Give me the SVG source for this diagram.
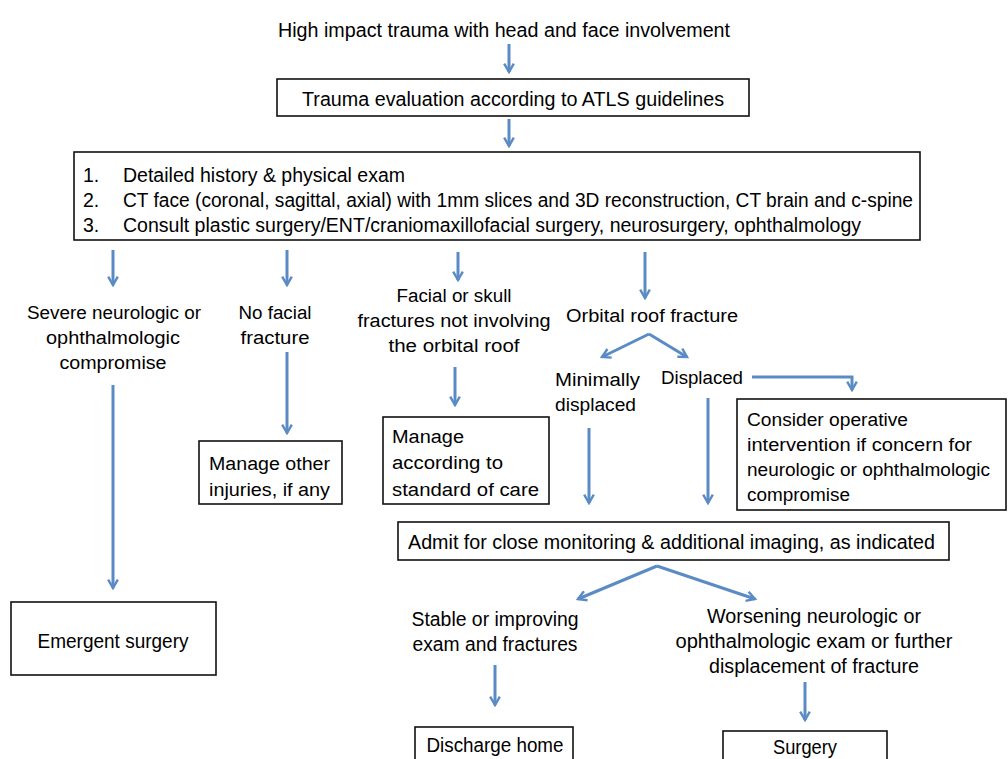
<svg xmlns="http://www.w3.org/2000/svg" width="1008" height="759" viewBox="0 0 1008 759">
<style>
text{font-family:"Liberation Sans",Arial,sans-serif;fill:#000;font-size:18px}
.c{text-anchor:middle}
.t{font-size:19.5px}
.box{fill:#fff;stroke:#111;stroke-width:1.6}
.ln{fill:none;stroke:#5b8bc4;stroke-width:3}
</style>
<defs>
<marker id="ah" viewBox="0 0 10 10" refX="8" refY="5" markerWidth="4" markerHeight="4" orient="auto" markerUnits="strokeWidth">
<path d="M1,1 L8,5 L1,9" fill="none" stroke="#5b8bc4" stroke-width="2"/>
</marker>
</defs>
<rect width="1008" height="759" fill="#fff"/>
<g id="connectors">
<path class="ln" d="M509,44 V72" marker-end="url(#ah)"/>
<path class="ln" d="M509,119 V146" marker-end="url(#ah)"/>
<path class="ln" d="M113,250 V285" marker-end="url(#ah)"/>
<path class="ln" d="M287,250 V285" marker-end="url(#ah)"/>
<path class="ln" d="M458,252 V280" marker-end="url(#ah)"/>
<path class="ln" d="M645,252 V298" marker-end="url(#ah)"/>
<path class="ln" d="M113,385 V588" marker-end="url(#ah)"/>
<path class="ln" d="M287,352 V433" marker-end="url(#ah)"/>
<path class="ln" d="M455,367 V405" marker-end="url(#ah)"/>
<path class="ln" d="M649,334 L602,357" marker-end="url(#ah)"/>
<path class="ln" d="M649,334 L687,357" marker-end="url(#ah)"/>
<path class="ln" d="M752,377 H852 V390" marker-end="url(#ah)"/>
<path class="ln" d="M589,428 V503" marker-end="url(#ah)"/>
<path class="ln" d="M708,398 V503" marker-end="url(#ah)"/>
<path class="ln" d="M657,566 L578,599" marker-end="url(#ah)"/>
<path class="ln" d="M657,566 L755,599" marker-end="url(#ah)"/>
<path class="ln" d="M495,665 V705" marker-end="url(#ah)"/>
<path class="ln" d="M805,682 V720" marker-end="url(#ah)"/>
</g>
<g id="n-start"><text x="504" y="37" class="c t" textLength="452" lengthAdjust="spacingAndGlyphs">High impact trauma with head and face involvement</text></g>
<g id="n-atls"><rect class="box" x="277" y="79" width="472" height="37"/><text x="513" y="106" class="c t" textLength="422" lengthAdjust="spacingAndGlyphs">Trauma evaluation according to ATLS guidelines</text></g>
<g id="n-workup"><rect class="box" x="74" y="152" width="846" height="88"/>
<text class="t" x="83" y="182">1.</text><text class="t" x="123" y="182" textLength="282" lengthAdjust="spacingAndGlyphs">Detailed history &amp; physical exam</text>
<text class="t" x="83" y="207">2.</text><text class="t" x="123" y="207" textLength="790" lengthAdjust="spacingAndGlyphs">CT face (coronal, sagittal, axial) with 1mm slices and 3D reconstruction, CT brain and c-spine</text>
<text class="t" x="83" y="232">3.</text><text class="t" x="123" y="232" textLength="738" lengthAdjust="spacingAndGlyphs">Consult plastic surgery/ENT/craniomaxillofacial surgery, neurosurgery, ophthalmology</text>
</g>
<g id="n-severe"><text class="c" x="114" y="319" textLength="174" lengthAdjust="spacingAndGlyphs">Severe neurologic or</text><text class="c" x="113" y="344" textLength="134" lengthAdjust="spacingAndGlyphs">ophthalmologic</text><text class="c" x="113" y="369" textLength="107" lengthAdjust="spacingAndGlyphs">compromise</text></g>
<g id="n-nofx"><text class="c" x="275" y="319" textLength="73" lengthAdjust="spacingAndGlyphs">No facial</text><text class="c" x="275" y="344" textLength="69" lengthAdjust="spacingAndGlyphs">fracture</text></g>
<g id="n-facial"><text class="c" x="454" y="302" textLength="115" lengthAdjust="spacingAndGlyphs">Facial or skull</text><text class="c" x="454" y="327" textLength="193" lengthAdjust="spacingAndGlyphs">fractures not involving</text><text class="c" x="454" y="352" textLength="131" lengthAdjust="spacingAndGlyphs">the orbital roof</text></g>
<g id="n-orbital"><text class="c" x="652" y="322" textLength="172" lengthAdjust="spacingAndGlyphs">Orbital roof fracture</text></g>
<g id="n-minimal"><text x="555" y="386" textLength="85" lengthAdjust="spacingAndGlyphs">Minimally</text><text x="555" y="411" textLength="81" lengthAdjust="spacingAndGlyphs">displaced</text></g>
<g id="n-displaced"><text x="661" y="384" textLength="82" lengthAdjust="spacingAndGlyphs">Displaced</text></g>
<g id="n-other"><rect class="box" x="199" y="441" width="143" height="63"/><text x="209" y="470" textLength="121" lengthAdjust="spacingAndGlyphs">Manage other</text><text x="209" y="496" textLength="121" lengthAdjust="spacingAndGlyphs">injuries, if any</text></g>
<g id="n-standard"><rect class="box" x="383" y="417" width="166" height="87"/><text x="392" y="443" textLength="72" lengthAdjust="spacingAndGlyphs">Manage</text><text x="392" y="469" textLength="111" lengthAdjust="spacingAndGlyphs">according to</text><text x="392" y="496" textLength="147" lengthAdjust="spacingAndGlyphs">standard of care</text></g>
<g id="n-consider"><rect class="box" x="737" y="399" width="269" height="111"/><text x="747" y="426" textLength="161" lengthAdjust="spacingAndGlyphs">Consider operative</text><text x="747" y="451" textLength="225" lengthAdjust="spacingAndGlyphs">intervention if concern for</text><text x="747" y="476" textLength="243" lengthAdjust="spacingAndGlyphs">neurologic or ophthalmologic</text><text x="747" y="501" textLength="103" lengthAdjust="spacingAndGlyphs">compromise</text></g>
<g id="n-emergent"><rect class="box" x="11" y="602" width="205" height="73"/><text class="c t" x="113" y="648" textLength="151" lengthAdjust="spacingAndGlyphs">Emergent surgery</text></g>
<g id="n-admit"><rect class="box" x="398" y="522" width="551" height="38"/><text class="t" x="408" y="549" textLength="527" lengthAdjust="spacingAndGlyphs">Admit for close monitoring &amp; additional imaging, as indicated</text></g>
<g id="n-stable"><text class="c t" x="495" y="626" textLength="167" lengthAdjust="spacingAndGlyphs">Stable or improving</text><text class="c t" x="495" y="651" textLength="165" lengthAdjust="spacingAndGlyphs">exam and fractures</text></g>
<g id="n-worse"><text class="c t" x="814" y="623" textLength="214" lengthAdjust="spacingAndGlyphs">Worsening neurologic or</text><text class="c t" x="814" y="648" textLength="277" lengthAdjust="spacingAndGlyphs">ophthalmologic exam or further</text><text class="c t" x="814" y="673" textLength="210" lengthAdjust="spacingAndGlyphs">displacement of fracture</text></g>
<g id="n-discharge"><rect class="box" x="415" y="727" width="158" height="40"/><text class="c t" x="495" y="752" textLength="137" lengthAdjust="spacingAndGlyphs">Discharge home</text></g>
<g id="n-surgery"><rect class="box" x="723" y="731" width="164" height="40"/><text class="c t" x="805" y="754" textLength="64" lengthAdjust="spacingAndGlyphs">Surgery</text></g>
</svg>
